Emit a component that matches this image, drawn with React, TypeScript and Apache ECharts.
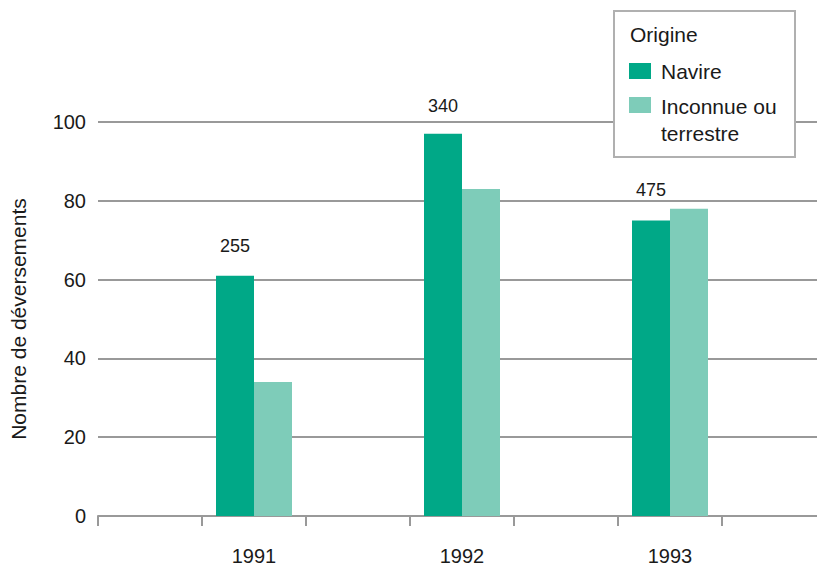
import React, { useEffect, useRef } from "react";
import * as echarts from "echarts";

const categories = ["", "1991", "", "1992", "", "1993", ""];
const navire = [null, 61, null, 97, null, 75, null];
const inconnue = [null, 34, null, 83, null, 78, null];
const totals = [null, 255, null, 340, null, 475, null];
const seriesNames = ["Navire", "Inconnue ou terrestre"];
const legendTitle = "Origine";
const yAxisTitle = "Nombre de déversements";

const COLORS = ["#00A887", "#7ECCB9"];
const FONT = "Liberation Sans, Arial, sans-serif";
const TEXT = "#1a1a1a";
const GRID = "#999999";
// vertical label offsets (layout only)
const labelOffsetsY = [0, -16, 0, -14, 0, -17, 0];

export default function App() {
  const ref = useRef<HTMLDivElement>(null);
  useEffect(() => {
    if (!ref.current) return;
    const chart = echarts.init(ref.current, null, { renderer: "svg" });
    const navData = navire.map((v, i) =>
      v == null
        ? "-"
        : {
            value: v,
            label: {
              show: totals[i] != null,
              position: "top",
              formatter: String(totals[i]),
              offset: [0, labelOffsetsY[i]],
              fontSize: 18,
              color: TEXT,
              fontFamily: FONT,
            },
          }
    );
    const incData = inconnue.map((v) => (v == null ? "-" : v));
    const z = 100;
    const legendText = { fontSize: 21, fill: TEXT, fontFamily: FONT, verticalAlign: "middle" };
    chart.setOption({
      animation: false,
      textStyle: { fontFamily: FONT },
      grid: { left: 98, top: 122, width: 728, height: 394, containLabel: false, outerBoundsMode: "none" },
      xAxis: {
        type: "category",
        data: categories,
        axisLine: { lineStyle: { color: GRID, width: 2 } },
        axisTick: { show: true, length: 10, lineStyle: { color: GRID, width: 2 } },
        axisLabel: { margin: 30, fontSize: 20, color: TEXT, fontFamily: FONT, interval: 0 },
      },
      yAxis: {
        type: "value",
        min: 0,
        max: 100,
        interval: 20,
        name: yAxisTitle,
        nameLocation: "middle",
        nameRotate: 90,
        nameGap: 69,
        nameTextStyle: { fontSize: 21, color: TEXT, fontFamily: FONT },
        axisLine: { show: false },
        axisTick: { show: false },
        axisLabel: { margin: 12, fontSize: 20, color: TEXT, fontFamily: FONT },
        splitLine: { lineStyle: { color: GRID, width: 2 } },
      },
      series: [
        {
          name: seriesNames[0],
          type: "bar",
          data: navData,
          barWidth: 38,
          barGap: "0%",
          itemStyle: { color: COLORS[0] },
        },
        {
          name: seriesNames[1],
          type: "bar",
          data: incData,
          barWidth: 38,
          barGap: "0%",
          itemStyle: { color: COLORS[1] },
        },
      ],
      graphic: [
        {
          type: "rect",
          z,
          shape: { x: 614, y: 11, width: 181, height: 146 },
          style: { fill: "#ffffff", stroke: "#b0b0b0", lineWidth: 2 },
        },
        { type: "text", z: z + 1, x: 630, y: 34, style: { ...legendText, text: legendTitle } },
        { type: "rect", z: z + 1, shape: { x: 629, y: 63, width: 22, height: 16 }, style: { fill: COLORS[0] } },
        { type: "text", z: z + 1, x: 661, y: 71, style: { ...legendText, text: seriesNames[0] } },
        { type: "rect", z: z + 1, shape: { x: 629, y: 97, width: 22, height: 16 }, style: { fill: COLORS[1] } },
        { type: "text", z: z + 1, x: 661, y: 106, style: { ...legendText, text: "Inconnue ou" } },
        { type: "text", z: z + 1, x: 661, y: 133, style: { ...legendText, text: "terrestre" } },
      ],
    });
    return () => chart.dispose();
  }, []);
  return (
    <div
      ref={ref}
      style={{ position: "absolute", left: 0, top: 0, width: 817, height: 566, background: "#fff" }}
    />
  );
}
